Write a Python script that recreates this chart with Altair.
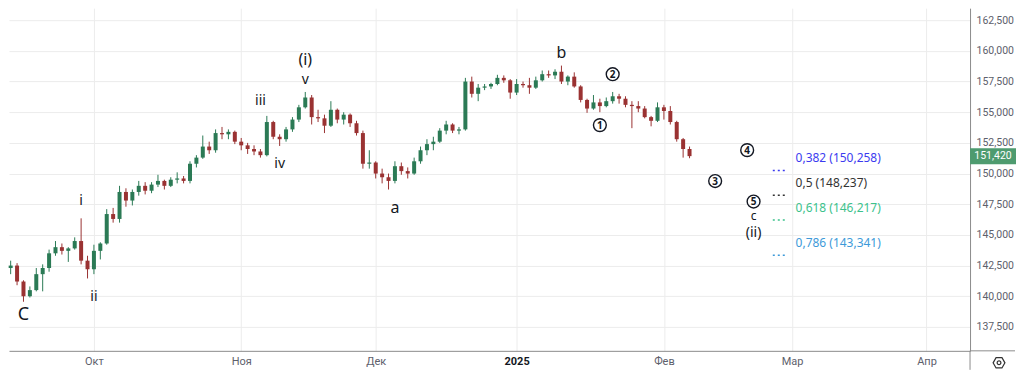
import altair as alt
import pandas as pd

# ---------------- data ----------------
bar_first_day = "2024-09-12"
bar_open = [142.3, 142.5, 141.2, 140.0, 140.5, 141.8, 142.3, 143.5, 144.0, 143.7,
            143.9, 144.5, 142.9, 142.2, 143.7, 144.3, 146.7, 146.3, 148.5, 147.8,
            148.5, 149.0, 148.6, 149.1, 149.4, 149.0, 149.5, 149.6, 149.4, 150.8,
            151.3, 152.2, 151.9, 153.3, 153.2, 153.4, 152.6, 152.3, 152.0, 151.8,
            151.5, 154.2, 153.0, 152.8, 153.6, 154.4, 155.4, 156.2, 154.6, 154.5,
            153.9, 155.2, 154.4, 154.8, 154.1, 153.3, 150.8, 150.9, 150.0, 149.7,
            149.4, 150.6, 150.2, 150.0, 151.0, 151.9, 152.4, 152.6, 153.5, 154.0,
            153.5, 153.6, 157.5, 156.5, 157.0, 157.1, 157.3, 157.8, 157.6, 156.6,
            157.3, 157.2, 157.0, 157.6, 158.1, 158.0, 158.3, 157.5, 157.9, 157.1,
            156.0, 155.3, 155.8, 155.5, 155.9, 156.3, 156.1, 155.6, 155.5, 155.3,
            154.6, 154.3, 155.4, 155.1, 154.2, 152.8, 152.0]
bar_high = [142.9, 142.7, 141.3, 140.8, 142.3, 142.6, 143.8, 144.5, 144.3, 144.0,
            144.8, 146.35, 143.3, 144.2, 144.4, 147.1, 147.2, 149.0, 148.8, 148.7,
            149.4, 149.3, 149.3, 149.9, 149.5, 149.7, 150.1, 149.8, 151.0, 151.5,
            153.1, 152.6, 153.6, 153.8, 153.6, 153.5, 152.9, 152.5, 152.3, 152.0,
            154.7, 154.3, 153.2, 153.8, 154.6, 155.6, 156.65, 156.4, 155.2, 154.8,
            155.9, 155.3, 155.0, 154.9, 154.3, 153.5, 151.9, 151.0, 150.4, 150.0,
            151.0, 150.9, 150.5, 151.3, 152.2, 152.8, 153.0, 153.7, 154.3, 154.1,
            153.8, 157.8, 157.9, 157.3, 157.3, 157.4, 158.05, 158.0, 157.7, 157.7,
            157.5, 157.8, 157.9, 158.4, 158.4, 158.5, 158.8, 158.0, 158.25, 157.2,
            156.1, 156.4, 156.1, 156.2, 156.65, 156.5, 156.3, 155.9, 155.9, 155.5,
            154.7, 155.8, 155.6, 155.5, 154.3, 152.9, 152.2]
bar_low = [141.8, 140.9, 139.55, 139.9, 140.4, 140.4, 142.0, 143.3, 143.4, 142.8,
           143.8, 142.6, 141.45, 141.8, 143.0, 144.2, 146.0, 146.0, 147.3, 147.4,
           148.2, 148.3, 148.4, 148.9, 148.7, 148.9, 149.2, 149.2, 149.2, 150.5,
           151.2, 151.6, 151.7, 152.8, 152.8, 152.4, 151.9, 151.6, 151.5, 151.3,
           151.4, 152.8, 152.25, 152.6, 153.4, 154.2, 155.3, 154.0, 154.2, 153.3,
           153.8, 154.1, 154.0, 153.8, 153.1, 150.4, 150.4, 149.6, 149.2, 148.7,
           149.2, 149.9, 149.6, 149.9, 150.8, 151.5, 151.9, 152.5, 153.2, 153.3,
           153.2, 153.5, 156.2, 155.9, 156.8, 156.9, 157.2, 157.4, 156.1, 156.4,
           157.0, 156.5, 156.9, 157.5, 157.8, 157.7, 157.3, 157.2, 157.0, 155.8,
           154.95, 155.2, 155.0, 155.4, 155.7, 155.7, 155.4, 153.7, 155.0, 154.5,
           153.85, 154.2, 154.4, 154.0, 152.6, 151.3, 151.25]
bar_close = [142.5, 141.2, 140.0, 140.5, 141.8, 142.3, 143.5, 144.0, 143.7, 143.9,
             144.5, 142.9, 142.2, 143.7, 144.3, 146.7, 146.3, 148.5, 147.8, 148.5,
             149.0, 148.6, 149.1, 149.4, 149.0, 149.5, 149.6, 149.4, 150.8, 151.3,
             152.2, 151.9, 153.3, 153.2, 153.4, 152.6, 152.3, 152.0, 151.8, 151.5,
             154.2, 153.0, 152.8, 153.6, 154.4, 155.4, 156.2, 154.6, 154.5, 153.9,
             155.2, 154.4, 154.8, 154.1, 153.3, 150.8, 150.9, 150.0, 149.7, 149.4,
             150.6, 150.2, 150.0, 151.0, 151.9, 152.4, 152.6, 153.5, 154.0, 153.5,
             153.6, 157.5, 156.5, 157.0, 157.1, 157.3, 157.8, 157.6, 156.6, 157.3,
             157.2, 157.0, 157.6, 158.1, 158.0, 158.3, 157.5, 157.9, 157.1, 156.0,
             155.3, 155.8, 155.5, 155.9, 156.3, 156.1, 155.6, 155.5, 155.3, 154.6,
             154.3, 155.4, 155.1, 154.2, 152.8, 152.0, 151.42]

wave_text = ["C", "i", "ii", "iii", "iv", "v", "(i)", "a", "b", "c", "(ii)"]
wave_day = ["2024-09-16", "2024-09-27", "2024-10-01", "2024-11-06", "2024-11-11",
            "2024-11-15", "2024-11-15", "2024-12-05", "2025-01-10", "2025-02-21",
            "2025-02-21"]
wave_price = [138.48, 147.76, 139.94, 155.90, 150.77, 157.61, 159.24, 147.19,
              159.81, 146.58, 145.12]

sub_text = ["1", "2", "3", "4", "5"]
sub_day = ["2025-01-20", "2025-01-22", "2025-02-13", "2025-02-20", "2025-02-21"]
sub_price = [153.95, 158.10, 149.39, 151.91, 147.72]

fib_ratio = ["0,382", "0,5", "0,618", "0,786"]
fib_price = [150.258, 148.237, 146.217, 143.341]
fib_from = "2025-02-26"
fib_to = "2025-02-28"

month_start = ["2024-10-01", "2024-11-01", "2024-12-01", "2025-01-01",
               "2025-02-01", "2025-03-01", "2025-04-01"]
month_label = ["Окт", "Ноя", "Дек", "2025", "Фев", "Мар", "Апр"]

price_ticks = [137.5, 140.0, 142.5, 145.0, 147.5, 150.0, 152.5, 155.0, 157.5,
               160.0, 162.5]
last_price = 151.42

# ---------------- styles ----------------
UP, DOWN = "#2b7a55", "#9a3232"
FIB_COLORS = ["#3b3bf0", "#333333", "#3cc28c", "#3d9ad9"]
WAVE_FONT = {"C": 18, "i": 14, "ii": 14, "iii": 14, "iv": 14, "v": 14,
             "(i)": 16, "a": 16, "b": 16, "c": 12, "(ii)": 14}
INK = "#131722"
AXIS_LINE = "#8c8c8c"
GRID = "#ececec"
LABEL = "#5d606b"
TAG = "#4e9b6f"

W, H = 962, 343
RIGHT = 46  # room right of the plot for the price scale
# price tag: a rectangle symbol (path spans -1..1, drawn at sqrt(size)/2)
TAG_SHAPE = "M-1,-0.348L1,-0.348L1,0.348L-1,0.348Z"

# ---------------- trading-day positions ----------------
calendar = pd.bdate_range("2024-09-09", "2025-04-30")


def pos(day):
    return int(calendar.searchsorted(pd.Timestamp(day)))


def fmt(v):
    return f"{v:.3f}".replace(".", ",")


start = pos(bar_first_day)
bars = pd.DataFrame({
    "n": list(range(start, start + len(bar_close))),
    "open": bar_open, "high": bar_high, "low": bar_low, "close": bar_close,
})
bars["col"] = [UP if c >= o else DOWN for o, c in zip(bar_open, bar_close)]

month_pos = [pos(d) for d in month_start]
year_pos = month_pos[month_label.index("2025")]
label_expr = ""
for p_, lab in zip(month_pos, month_label):
    label_expr += f"datum.value == {p_} ? '{lab}' : "
label_expr += "''"

xs = alt.Scale(domain=[2.74, 152.8], nice=False, zero=False)
ys = alt.Scale(domain=[135.55, 163.48], nice=False, zero=False)

x_axis = alt.Axis(
    values=month_pos, labelExpr=label_expr, grid=True, gridColor=GRID,
    ticks=False, domain=True, domainColor=AXIS_LINE, labelPadding=5,
    labelFontSize=11, labelFont="Roboto", labelFlush=False,
    labelColor={"condition": {"test": f"datum.value == {year_pos}", "value": INK},
                "value": LABEL},
    labelFontWeight={"condition": {"test": f"datum.value == {year_pos}",
                                   "value": "bold"}, "value": "normal"},
)
y_axis = alt.Axis(
    orient="right", values=price_ticks,
    labelExpr="replace(format(datum.value, '.3f'), '.', ',')",
    grid=True, gridColor=GRID, ticks=False, domain=True, domainColor=AXIS_LINE,
    labelPadding=6, labelFontSize=10.5, labelFont="Roboto", labelColor=LABEL,
)


def X(field="n"):
    return alt.X(f"{field}:Q", scale=xs, axis=x_axis, title=None)


def Y(field):
    return alt.Y(f"{field}:Q", scale=ys, axis=y_axis, title=None)


wick = alt.Chart(bars).mark_rule(strokeWidth=1).encode(
    x=X(), y=Y("low"), y2="high", color=alt.Color("col:N", scale=None))
body = alt.Chart(bars).mark_rule(strokeWidth=4, strokeCap="butt").encode(
    x=X(), y=Y("open"), y2="close", color=alt.Color("col:N", scale=None))

waves = pd.DataFrame({"n": [pos(d) for d in wave_day], "p": wave_price,
                      "t": wave_text})
waves["fs"] = [WAVE_FONT[t] for t in wave_text]
wave_layer = alt.Chart(waves).mark_text(
    font="Noto Sans", color=INK, align="center", baseline="middle").encode(
    x=X(), y=Y("p"), text="t:N", size=alt.Size("fs:Q", scale=None))

subs = pd.DataFrame({"n": [pos(d) for d in sub_day], "p": sub_price,
                     "t": sub_text})
ring = alt.Chart(subs).mark_point(
    shape="circle", filled=False, size=165, stroke=INK, strokeWidth=1.4,
    opacity=1).encode(x=X(), y=Y("p"))
digit = alt.Chart(subs).mark_text(
    font="Noto Sans", fontSize=10, fontWeight="bold", color=INK,
    align="center", baseline="middle", dy=0.5).encode(x=X(), y=Y("p"), text="t:N")

fib = pd.DataFrame({
    "n": [pos(fib_from)] * len(fib_price),
    "n1": [pos(fib_to)] * len(fib_price),
    "p": fib_price,
    "t": [f"{r} ({fmt(v)})" for r, v in zip(fib_ratio, fib_price)],
    "col": FIB_COLORS,
})
fib_line = alt.Chart(fib).mark_rule(strokeDash=[2, 3], strokeWidth=1.5).encode(
    x=X(), x2="n1", y=Y("p"), color=alt.Color("col:N", scale=None))
fib_text = alt.Chart(fib).mark_text(
    font="Noto Sans", fontSize=12, align="left", baseline="middle",
    dx=10, dy=-12).encode(x=X("n1"), y=Y("p"), text="t:N",
                          color=alt.Color("col:N", scale=None))

tag = pd.DataFrame({"p": [last_price], "t": [fmt(last_price)]})
tag_box = alt.Chart(tag).mark_point(
    shape=TAG_SHAPE, filled=True, size=RIGHT * RIGHT, color=TAG, opacity=1,
    strokeWidth=0).encode(x=alt.value(W + RIGHT / 2), y=Y("p"))
tag_text = alt.Chart(tag).mark_text(
    font="Roboto", fontSize=10.5, color="white", align="center",
    baseline="middle").encode(x=alt.value(W + RIGHT / 2), y=Y("p"), text="t:N")

one = pd.DataFrame({"k": [0]})
edge_v = alt.Chart(one).mark_rule(color=AXIS_LINE).encode(
    x=alt.value(W), y=alt.value(H), y2=alt.value(H + 19))
edge_h = alt.Chart(one).mark_rule(color=AXIS_LINE).encode(
    x=alt.value(W), x2=alt.value(W + RIGHT - 1), y=alt.value(H))
hexagon = alt.Chart(one).mark_point(
    shape="M-1,0L-0.5,-0.866L0.5,-0.866L1,0L0.5,0.866L-0.5,0.866Z",
    filled=False, size=140, stroke="#333333", strokeWidth=1.2, opacity=1).encode(
    x=alt.value(W + 29), y=alt.value(H + 12))
hex_dot = alt.Chart(one).mark_point(
    shape="circle", filled=False, size=14, stroke="#333333", strokeWidth=1.2,
    opacity=1).encode(x=alt.value(W + 29), y=alt.value(H + 12))

chart = alt.layer(
    wick, body, fib_line, fib_text, wave_layer, ring, digit,
    tag_box, tag_text, edge_v, edge_h, hexagon, hex_dot,
).properties(width=W, height=H, padding=0).configure_view(stroke=None)

chart.save("out.html", embed_options={"renderer": "svg", "actions": False})
